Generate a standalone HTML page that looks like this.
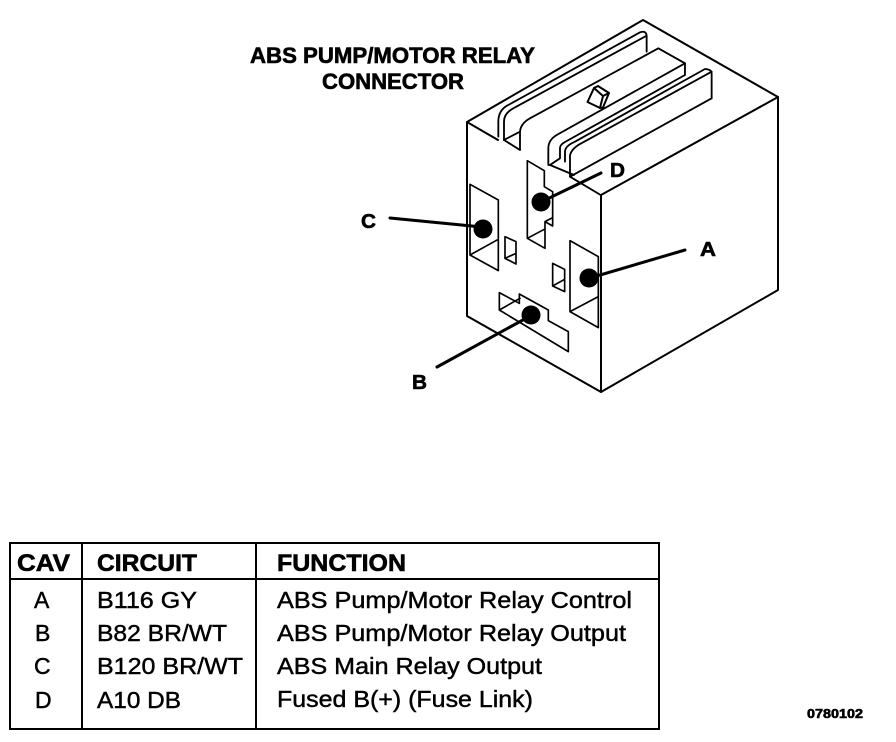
<!DOCTYPE html>
<html><head><meta charset="utf-8"><style>html,body{margin:0;padding:0;background:#fff}svg{display:block}text{font-family:"Liberation Sans",sans-serif;fill:#000;stroke:#000;stroke-width:.45}.b{font-weight:bold;stroke-width:.6}</style></head>
<body>
<svg width="896" height="742" viewBox="0 0 896 742" xmlns="http://www.w3.org/2000/svg">
<rect width="896" height="742" fill="#fff"/>
<g fill="none" stroke="#000" stroke-linejoin="round" stroke-linecap="round">
<!-- body -->
<g stroke-width="2">
<path d="M467 122L643 20L778 97V290L601 392L467 316Z"/>
<path d="M601 392V195L778 97"/>
<path d="M467 122L498 140"/>
</g>
<!-- top ridges -->
<g transform="translate(450,20) scale(.3333)" stroke-width="5.5">
<path d="M145 350V305Q145 270 175 255L570 37Q590 30 590 50V95"/>
<path d="M162 360V305Q162 280 190 265L590 47"/>
<path d="M162 360L210 390V335Q212 310 240 295L625 85L705 130V165L345 366Q330 374 330 385V415L300 435L372 465"/>
<path d="M162 360L210 335"/>
<path d="M705 130L320 345Q295 360 295 385V435L300 435"/>
<path d="M345 425V395Q345 378 375 365L765 147Q785 148 785 160V235"/>
<path d="M360 470V410Q360 392 385 375L785 155"/>
<path d="M360 470L785 235M360 470L452 525"/>
</g>
<!-- small cube -->
<g stroke-width="2">
<path fill="#fff" d="M587.5 102L594 88L598 86L609 93L603 107.5L600 108Z"/>
<path d="M594 88L603 96L609 93M603 96L600 108"/>
</g>
<!-- face cavities -->
<g transform="translate(440,150) scale(.3333)" stroke-width="5">
<path d="M90 103L175 150V362L90 315ZM90 315L175 268"/>
<path d="M195 260L228 275V342L195 325ZM195 325L228 310"/>
<path d="M262 32L313 62V110L338 125V228L315 215V295L262 265ZM262 265L313 238M315 215L338 203"/>
<path d="M390 272L475 320V533L390 485ZM390 485L475 440"/>
<path d="M338 340L374 358V425L338 408ZM338 408L374 388"/>
<path d="M178 428L238 460V432L325 480V512L385 545V605L178 480ZM178 480L240 445"/>
</g>
<!-- leaders -->
<g stroke-width="3">
<path d="M390 218L482 227"/>
<path d="M601 173L541 202" />
<path d="M685 250L590 278"/>
<path d="M437 367L532 315"/>
</g>
</g>
<circle cx="541" cy="202" r="9.5"/>
<circle cx="483" cy="229" r="9.5"/>
<circle cx="589" cy="278" r="9.5"/>
<circle cx="531" cy="315" r="9.5"/>

<text class="b" x="250" y="63" font-size="22" textLength="285" lengthAdjust="spacingAndGlyphs">ABS PUMP/MOTOR RELAY</text>
<text class="b" x="322" y="89" font-size="22" textLength="142" lengthAdjust="spacingAndGlyphs">CONNECTOR</text>
<text class="b" x="361" y="228" font-size="20" textLength="15" lengthAdjust="spacingAndGlyphs">C</text>
<text class="b" x="610" y="177" font-size="20" textLength="15" lengthAdjust="spacingAndGlyphs">D</text>
<text class="b" x="700" y="256" font-size="20" textLength="16" lengthAdjust="spacingAndGlyphs">A</text>
<text class="b" x="412" y="389" font-size="20" textLength="15" lengthAdjust="spacingAndGlyphs">B</text>

<!-- table -->
<g fill="none" stroke="#000" stroke-width="2">
<rect x="10" y="543" width="649" height="186"/>
<path d="M10 579H659M82 543V729M256 543V729"/>
</g>
<text class="b" x="17" y="571" font-size="24" textLength="53" lengthAdjust="spacingAndGlyphs">CAV</text>
<text class="b" x="97" y="571" font-size="24" textLength="100" lengthAdjust="spacingAndGlyphs">CIRCUIT</text>
<text class="b" x="277" y="571" font-size="24" textLength="129" lengthAdjust="spacingAndGlyphs">FUNCTION</text>

<g font-size="23">
<text x="34" y="608">A</text>
<text x="35" y="641">B</text>
<text x="34" y="674">C</text>
<text x="35" y="708">D</text>
<text x="97" y="608" textLength="100" lengthAdjust="spacingAndGlyphs">B116 GY</text>
<text x="97" y="641" textLength="130" lengthAdjust="spacingAndGlyphs">B82 BR/WT</text>
<text x="97" y="674" textLength="146" lengthAdjust="spacingAndGlyphs">B120 BR/WT</text>
<text x="97" y="708" textLength="84" lengthAdjust="spacingAndGlyphs">A10 DB</text>
<text x="277" y="608" textLength="355" lengthAdjust="spacingAndGlyphs">ABS Pump/Motor Relay Control</text>
<text x="277" y="641" textLength="349" lengthAdjust="spacingAndGlyphs">ABS Pump/Motor Relay Output</text>
<text x="277" y="674" textLength="265" lengthAdjust="spacingAndGlyphs">ABS Main Relay Output</text>
<text x="277" y="707" textLength="256" lengthAdjust="spacingAndGlyphs">Fused B(+) (Fuse Link)</text>
</g>
<text class="b" x="807" y="718" font-size="13" textLength="56" lengthAdjust="spacingAndGlyphs">0780102</text>
</svg>
</body></html>
